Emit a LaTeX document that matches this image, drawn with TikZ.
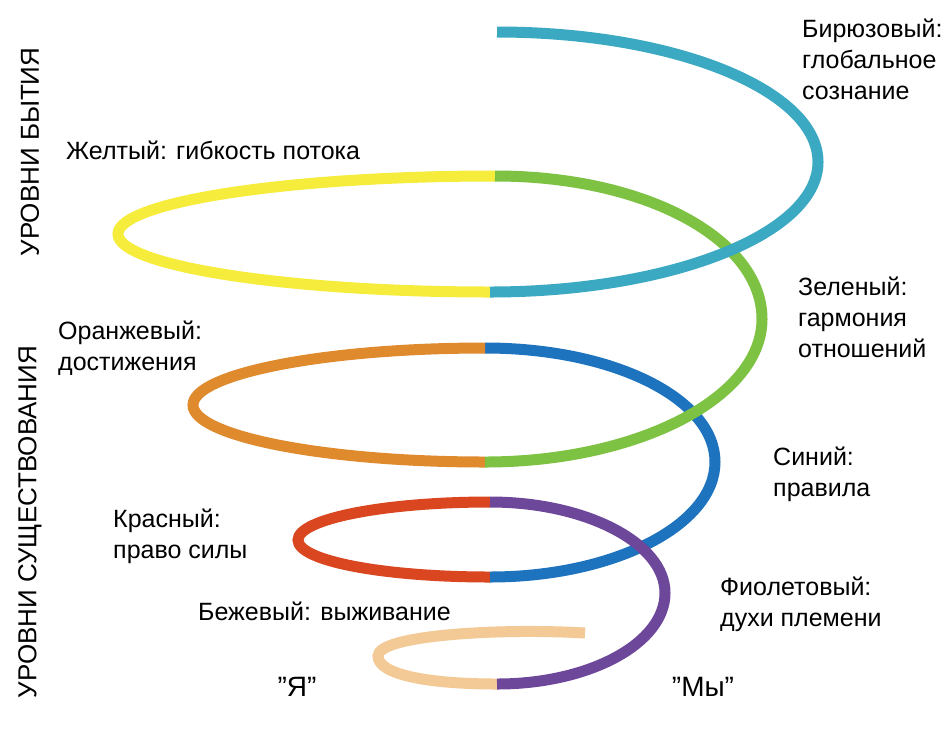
\documentclass[tikz,border=0pt]{standalone}
\usepackage{fontspec}
\setmainfont{Liberation Sans}
\begin{document}
\begin{tikzpicture}[x=1pt,y=-1pt,
  sp/.style={line width=11pt},
  lbl/.style={anchor=north west,align=left,font=\fontsize{25}{31}\selectfont,inner sep=0pt},
  side/.style={rotate=90,font=\fontsize{26}{28}\selectfont,inner sep=0pt},
  we/.style={font=\fontsize{28}{30}\selectfont,inner sep=0pt}]
\definecolor{cteal}{HTML}{3AA9C1}
\definecolor{cgreen}{HTML}{7DC242}
\definecolor{cyellow}{HTML}{F5EC3B}
\definecolor{cblue}{HTML}{1E73BE}
\definecolor{corange}{HTML}{E08A2E}
\definecolor{cred}{HTML}{D9461F}
\definecolor{cpurple}{HTML}{6D479A}
\definecolor{cbeige}{HTML}{F3C995}
\fill[white] (0,0) rectangle (952,732);
\draw[sp,cbeige] (585,633) .. controls (500,628) and (378,635) .. (378,656) .. controls (378,675) and (430,684) .. (497,684);
\draw[sp,cred] (490,502) .. controls (384,502) and (298,519) .. (298,540) .. controls (298,561) and (384,577) .. (490,577);
\draw[sp,cblue] (490,577) .. controls (614,577) and (715,525) .. (715,462) .. controls (715,399) and (614,348) .. (485,348);
\draw[sp,cpurple] (497,684) .. controls (590,684) and (665,643) .. (665,593) .. controls (665,543) and (586,502) .. (490,502);
\draw[sp,corange] (485,348) .. controls (324,348) and (193,374) .. (193,405) .. controls (193,436) and (324,462) .. (485,462);
\draw[sp,cyellow] (495,176) .. controls (288,176) and (118,202) .. (118,234) .. controls (118,266) and (288,292) .. (490,292);
\draw[sp,cgreen] (485,462) .. controls (637,462) and (762,398) .. (762,319) .. controls (762,240) and (647,176) .. (495,176);
\draw[sp,cteal] (497,32) .. controls (674,32) and (818,90) .. (818,162) .. controls (818,234) and (670,292) .. (490,292);
\node[lbl] (t1) at (802,19) {Бирюзовый:\\глобальное\\сознание};
\node[lbl] (t2) at (66,141) {Желтый: гибкость потока};
\node[lbl] (t3) at (798,277) {Зеленый:\\гармония\\отношений};
\node[lbl] (t4) at (58,321) {Оранжевый:\\достижения};
\node[lbl] (t5) at (773,447) {Синий:\\правила};
\node[lbl] (t6) at (113,509) {Красный:\\право силы};
\node[lbl] (t7) at (720,577) {Фиолетовый:\\духи племени};
\node[lbl] (t8) at (198,602) {Бежевый: выживание};
\node[we] (ya) at (297,687) {\symbol{34}Я\symbol{34}};
\node[we] (my) at (703,687) {\symbol{34}Мы\symbol{34}};
\node[side] (s1) at (30,152) {УРОВНИ БЫТИЯ};
\node[side] (s2) at (30,522) {УРОВНИ СУЩЕСТВОВАНИЯ};
\end{tikzpicture}
\end{document}
